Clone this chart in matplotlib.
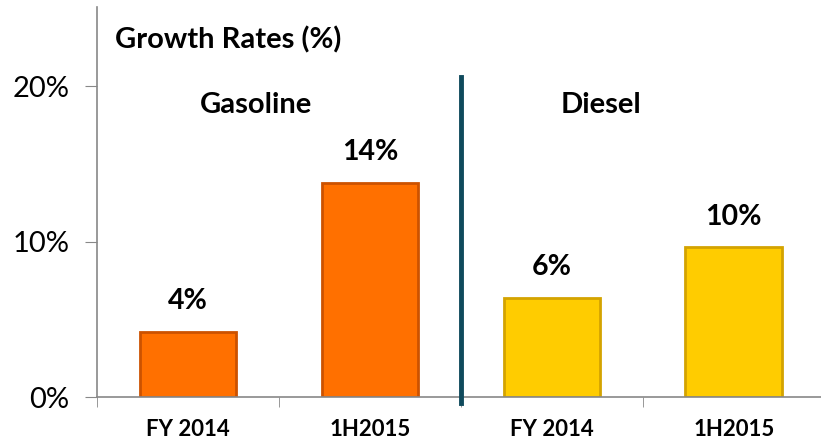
import matplotlib.pyplot as plt
import numpy as np

categories = ["FY 2014", "1H2015", "FY 2014", "1H2015"]
growth = [4.2, 13.8, 6.4, 9.65]
value_labels = ["4%", "14%", "6%", "10%"]
groups = ["Gasoline", "Diesel"]

plt.rcParams['font.family'] = ['Lato', 'DejaVu Sans']

fig = plt.figure(figsize=(8.21, 4.43), dpi=100)
ax = fig.add_axes([97 / 821, 46 / 443, 724 / 821, 390 / 443])

x = np.arange(len(categories))
fills = ["#ff7000", "#ff7000", "#ffcc00", "#ffcc00"]
edges = ["#cc5200", "#cc5200", "#d4a300", "#d4a300"]
ax.bar(x, growth, width=0.53, color=fills, edgecolor=edges, linewidth=2, zorder=2)

# value labels above each bar
for xi, v, lab in zip(x, growth, value_labels):
    ax.annotate(lab, (xi, v), xytext=(0, 22), textcoords="offset points",
                ha="center", va="center", fontsize=20.5, fontweight="bold")

# separator between the two fuel groups
ax.plot([1.5, 1.5], [-0.4, 20.6], color="#0f4a5c", lw=3.5, clip_on=False, zorder=3)

ax.text(0.374, 18.8, groups[0], ha="center", va="center", fontsize=21, fontweight="bold")
ax.text(2.27, 18.8, groups[1], ha="center", va="center", fontsize=21, fontweight="bold")
ax.text(0.025, 0.915, "Growth Rates (%)", transform=ax.transAxes, ha="left", va="center",
        fontsize=21, fontweight="bold")

ax.set_xlim(-0.5, 3.48)
ax.set_ylim(0, 25.1)
ax.set_yticks([0, 10, 20])
ax.set_yticklabels(["0%", "10%", "20%"], fontsize=21)
ax.set_xticks(x)
ax.set_xticklabels(categories, fontsize=16, fontweight="bold")
ax.tick_params(axis="x", length=0, pad=16)
ax.set_xticks([-0.5, 0.5, 1.5, 2.5], minor=True)
ax.tick_params(axis="x", which="minor", length=7, color="#888888")
ax.tick_params(axis="y", length=9, color="#888888", pad=11)

for s in ["top", "right"]:
    ax.spines[s].set_visible(False)
for s in ["left", "bottom"]:
    ax.spines[s].set_color("#888888")
    ax.spines[s].set_linewidth(1.2)

fig.savefig("out.png", dpi=100)
